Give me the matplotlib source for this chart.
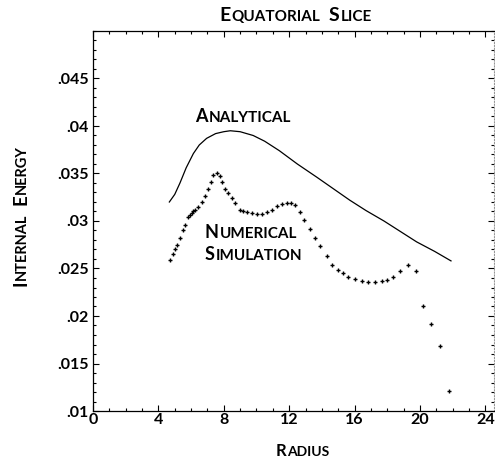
import matplotlib
matplotlib.use("Agg")
import matplotlib.pyplot as plt
from matplotlib.ticker import MultipleLocator, FixedLocator
from matplotlib.transforms import offset_copy

plt.rcParams['font.family'] = ['Lato', 'DejaVu Sans']

# ---- data ----
title_text = "Equatorial Slice"
xlabel_text = "Radius"
ylabel_text = "Internal Energy"
analytical_label = "Analytical"
numerical_label = ["Numerical", "Simulation"]

x_ticks = [0, 4, 8, 12, 16, 20, 24]
x_ticklabels = ["0", "4", "8", "12", "16", "20", "24"]
y_ticks = [0.01, 0.015, 0.02, 0.025, 0.03, 0.035, 0.04, 0.045]
y_ticklabels = [".01", ".015", ".02", ".025", ".03", ".035", ".04", ".045"]

x_analytical = [4.67, 5.0, 5.32, 5.7, 6.14, 6.5, 6.95, 7.5, 8.0, 8.4, 9.0, 9.8,
                10.5, 11.4, 12.5, 13.7, 14.7, 15.7, 16.7, 17.8, 18.8, 19.8, 20.9, 21.9]
y_analytical = [0.0320, 0.0328, 0.0340, 0.0356, 0.0371, 0.0380, 0.0387, 0.0392,
                0.0394, 0.0395, 0.0394, 0.0390, 0.0384, 0.0374, 0.0360, 0.0346,
                0.0334, 0.0322, 0.0311, 0.0300, 0.0289, 0.0278, 0.0268, 0.0258]

x_numerical = [4.71, 4.87, 5.02, 5.16, 5.32, 5.49, 5.63, 5.83, 5.93, 6.04, 6.14, 6.24,
               6.44, 6.65, 6.85, 7.05, 7.20, 7.36, 7.57, 7.77, 7.87, 8.07, 8.28, 8.48,
               8.69, 8.99, 9.20, 9.40, 9.71, 10.01, 10.32, 10.62, 10.93, 11.24, 11.54,
               11.85, 12.09, 12.35, 12.66, 12.91, 13.27, 13.58, 13.88, 14.29, 14.60,
               15.00, 15.31, 15.62, 16.02, 16.43, 16.84, 17.25, 17.66, 17.96, 18.33,
               18.78, 19.29, 19.76, 20.18, 20.67, 21.22, 21.77]
y_numerical = [0.0259, 0.0265, 0.0270, 0.0275, 0.0282, 0.0290, 0.0296, 0.0304, 0.0306,
               0.0308, 0.0310, 0.0312, 0.0315, 0.0320, 0.0326, 0.0334, 0.0341, 0.0348,
               0.0350, 0.0347, 0.0341, 0.0334, 0.0329, 0.0324, 0.0319, 0.0312, 0.0310,
               0.0309, 0.0308, 0.0307, 0.0307, 0.0309, 0.0312, 0.0316, 0.0318, 0.0319,
               0.0319, 0.0317, 0.0309, 0.0301, 0.0292, 0.0282, 0.0274, 0.0263, 0.0254,
               0.0248, 0.0245, 0.0241, 0.0239, 0.0237, 0.0236, 0.0236, 0.0237, 0.0238,
               0.0241, 0.0247, 0.0254, 0.0247, 0.0211, 0.0192, 0.0168, 0.0121]

W, H = 495, 461
fig = plt.figure(figsize=(W / 100, H / 100), dpi=100)
ax = fig.add_axes([93 / W, 50 / H, (493.5 - 93) / W, 380 / H])

ax.plot(x_analytical, y_analytical, color='black', lw=0.9)
ax.plot(x_numerical, y_numerical, ls='none', marker='+', ms=3.5, mew=1.0, color='black')

ax.set_xlim(0, 24.5)
ax.set_ylim(0.01, 0.05)
ax.xaxis.set_major_locator(FixedLocator(x_ticks))
ax.set_xticklabels(x_ticklabels)
ax.yaxis.set_major_locator(FixedLocator(y_ticks))
ax.set_yticklabels(y_ticklabels)
ax.xaxis.set_minor_locator(MultipleLocator(1))
ax.yaxis.set_minor_locator(MultipleLocator(0.001))
ax.tick_params(which='both', direction='in', top=True, right=True, width=0.8, color='black')
ax.tick_params(which='major', length=4.5)
ax.tick_params(which='minor', length=2.2)
ax.tick_params(axis='x', pad=1.5, labelsize=11.5)
ax.tick_params(axis='y', pad=3.0, labelsize=11.5)
for lab in ax.get_xticklabels() + ax.get_yticklabels():
    lab.set_fontweight('bold')
for s in ['left', 'bottom', 'top']:
    ax.spines[s].set_linewidth(0.9)
ax.spines['right'].set_linestyle(':')
ax.spines['right'].set_color('#999999')
ax.spines['right'].set_linewidth(0.8)


def small_caps(x, y, text, big, small, rotation=0, ha='left', weight='bold', track=0.6):
    renderer = fig.canvas.get_renderer()
    pieces = []
    for i, word in enumerate(text.split()):
        if i > 0:
            pieces.append((' ', small, True))
        pieces.append((word[0].upper(), big, False))
        if len(word) > 1:
            pieces.append((word[1:].upper(), small, False))
    widths = []
    for s, size, is_space in pieces:
        if is_space:
            widths.append(size * 0.5)
        else:
            t = fig.text(0, 0, s, fontsize=size, fontweight=weight)
            w = t.get_window_extent(renderer).width * 72 / fig.dpi
            t.remove()
            widths.append(w + track)
    total = sum(widths)
    off = -total / 2 if ha == 'center' else 0.0
    for (s, size, is_space), w in zip(pieces, widths):
        if not is_space:
            if rotation == 0:
                tr = offset_copy(fig.transFigure, fig=fig, x=off, y=0, units='points')
            else:
                tr = offset_copy(fig.transFigure, fig=fig, x=0, y=off, units='points')
            fig.text(x, y, s, fontsize=size, fontweight=weight, rotation=rotation,
                     rotation_mode='anchor', ha='left', va='baseline', transform=tr)
        off += w


small_caps(296 / W, (H - 20.7) / H, title_text, 14, 11, ha='center')
small_caps(303 / W, (H - 456) / H, xlabel_text, 12, 10, ha='center')
small_caps(26 / W, (H - 215) / H, ylabel_text, 13.5, 10.5, rotation=90, ha='center')
small_caps(195 / W, (H - 121.7) / H, analytical_label, 13, 11)
small_caps(205 / W, (H - 238) / H, numerical_label[0], 13, 11)
small_caps(205 / W, (H - 260) / H, numerical_label[1], 13, 11)

fig.savefig("out.png", dpi=100)
